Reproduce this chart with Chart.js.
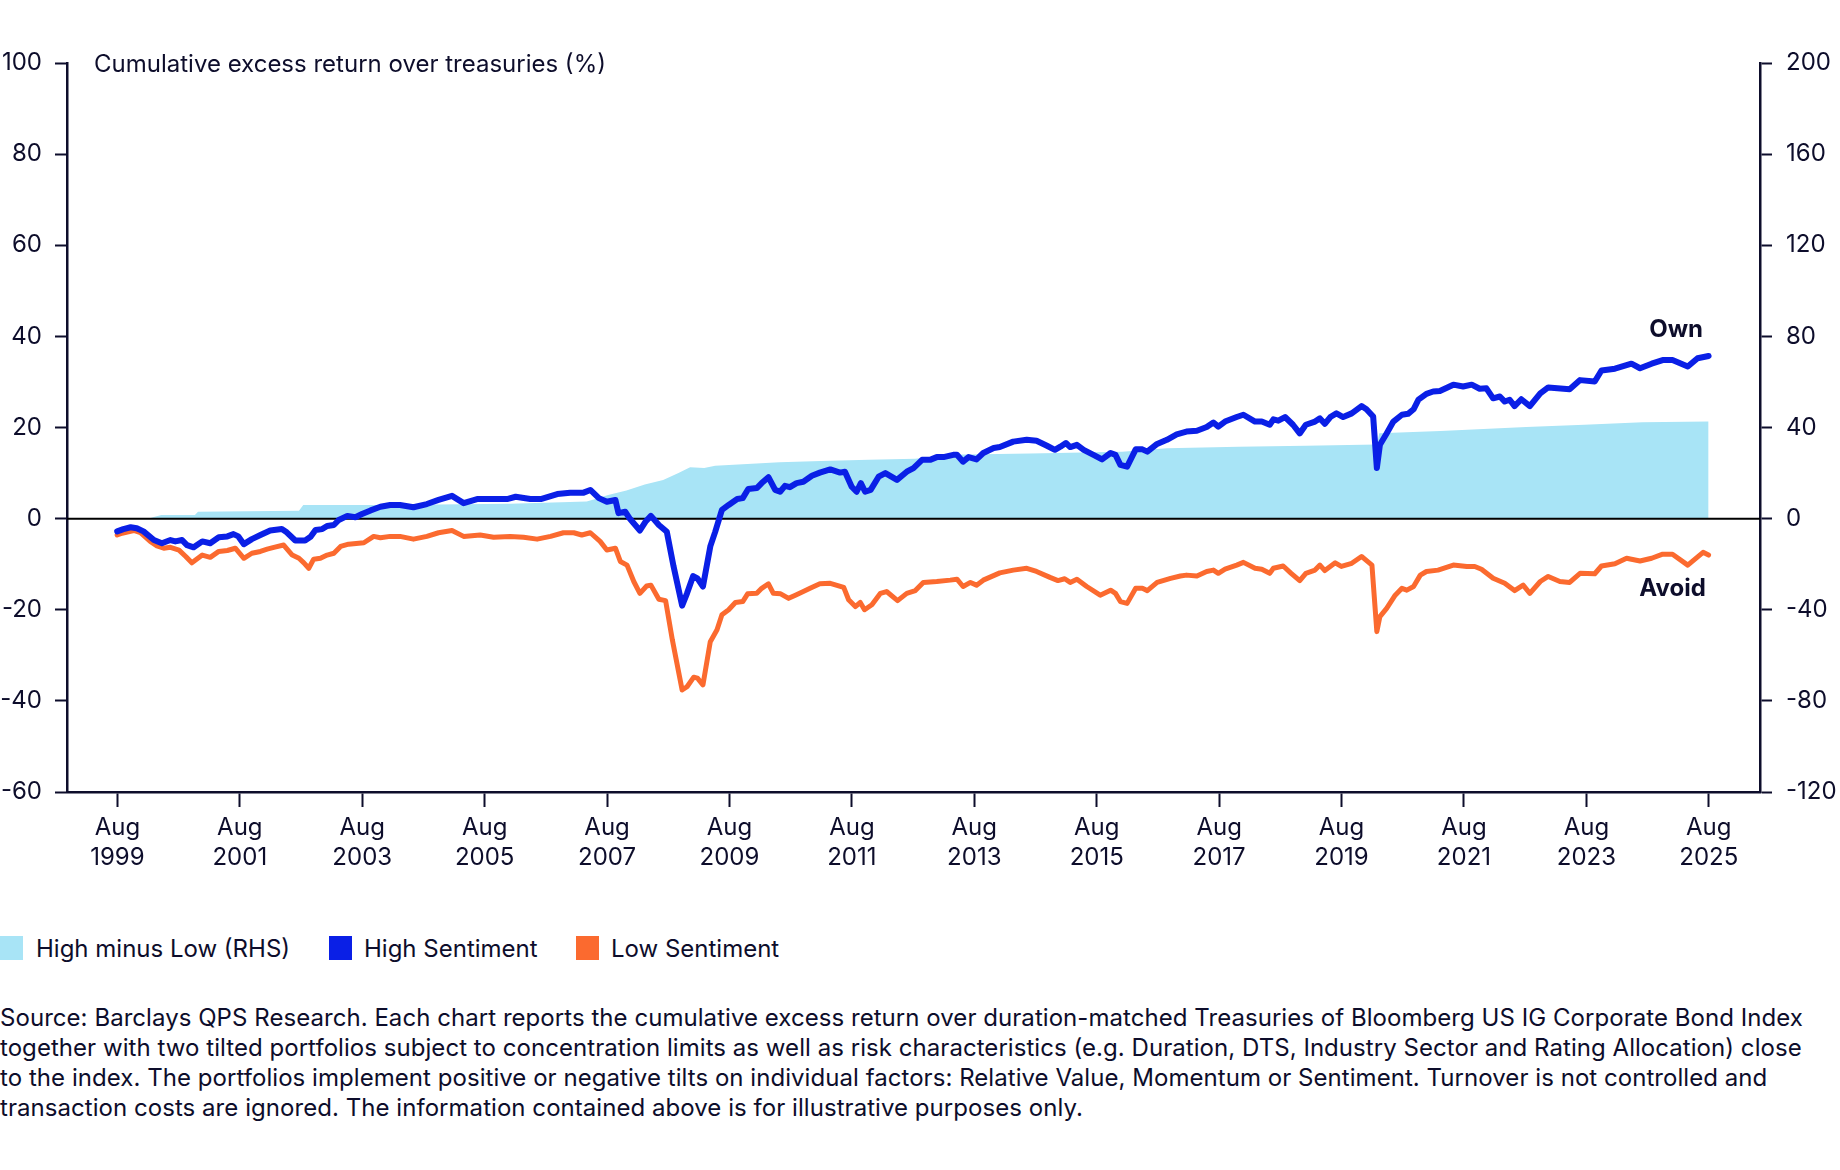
<!DOCTYPE html>
<html>
<head>
<meta charset="utf-8">
<script src="https://cdn.jsdelivr.net/npm/chart.js@4"></script>
<style>
html,body{margin:0;padding:0;background:#fff;}
body{width:1840px;height:1170px;position:relative;overflow:hidden;font-family:Inter,"Noto Sans",sans-serif;color:#0d0d2b;}
#wrap{position:absolute;left:0;top:0;width:1840px;height:900px;}
#legend{position:absolute;left:0;top:936px;height:24px;font-size:24px;line-height:24px;white-space:nowrap;}
.item{position:absolute;top:0;height:24px;}
.sw{position:absolute;top:0;left:0;width:23px;height:24px;}
.lbl{position:absolute;top:1px;}
#note{position:absolute;left:0;top:1003px;font-size:24px;line-height:30px;white-space:nowrap;letter-spacing:0.05px;}
</style>
</head>
<body>
<div id="wrap"><canvas id="c" width="1840" height="900"></canvas></div>
<div id="legend">
  <div class="item" style="left:0"><div class="sw" style="background:#a8e4f6"></div><div class="lbl" style="left:36px">High minus Low (RHS)</div></div>
  <div class="item" style="left:329px"><div class="sw" style="background:#0a1fe6"></div><div class="lbl" style="left:35px">High Sentiment</div></div>
  <div class="item" style="left:576px"><div class="sw" style="background:#fb6a2f"></div><div class="lbl" style="left:35px">Low Sentiment</div></div>
</div>
<div id="note">Source: Barclays QPS Research. Each chart reports the cumulative excess return over duration-matched Treasuries of Bloomberg US IG Corporate Bond Index<br>together with two tilted portfolios subject to concentration limits as well as risk characteristics (e.g. Duration, DTS, Industry Sector and Rating Allocation) close<br>to the index. The portfolios implement positive or negative tilts on individual factors: Relative Value, Momentum or Sentiment. Turnover is not controlled and<br>transaction costs are ignored. The information contained above is for illustrative purposes only.</div>
<script>
// ---- Data (dates as decimal years) ----
const tickYears = [1999,2001,2003,2005,2007,2009,2011,2013,2015,2017,2019,2021,2023,2025];
const tickMonth = 'Aug';

const highDates = [1999.58,1999.68,1999.8,1999.9,2000.01,2000.18,2000.31,2000.45,2000.53,2000.64,2000.72,2000.83,2000.97,2001.1,2001.24,2001.38,2001.48,2001.56,2001.65,2001.78,2001.92,2002.08,2002.27,2002.35,2002.49,2002.65,2002.74,2002.82,2002.93,2003.01,2003.12,2003.2,2003.34,2003.47,2003.58,2003.72,2003.88,2004.04,2004.2,2004.42,2004.64,2004.83,2005.05,2005.24,2005.46,2005.68,2005.95,2006.09,2006.33,2006.5,2006.77,2006.98,2007.2,2007.31,2007.45,2007.58,2007.72,2007.77,2007.88,2007.96,2008.12,2008.21,2008.3,2008.43,2008.56,2008.67,2008.81,2008.89,2008.99,2009.06,2009.15,2009.27,2009.35,2009.46,2009.57,2009.71,2009.8,2009.89,2010.03,2010.11,2010.22,2010.33,2010.41,2010.49,2010.57,2010.68,2010.79,2010.93,2011.06,2011.23,2011.39,2011.47,2011.58,2011.66,2011.73,2011.8,2011.89,2012.02,2012.13,2012.32,2012.48,2012.59,2012.73,2012.86,2012.97,2013.08,2013.24,2013.3,2013.4,2013.49,2013.62,2013.73,2013.9,2014.0,2014.22,2014.44,2014.6,2014.77,2014.9,2014.99,2015.08,2015.15,2015.26,2015.37,2015.53,2015.67,2015.81,2015.89,2015.97,2016.08,2016.22,2016.33,2016.41,2016.57,2016.73,2016.89,2017.05,2017.22,2017.38,2017.49,2017.57,2017.68,2017.87,2017.98,2018.17,2018.28,2018.41,2018.47,2018.55,2018.66,2018.79,2018.9,2019.0,2019.15,2019.23,2019.31,2019.4,2019.5,2019.61,2019.75,2019.91,2019.99,2020.1,2020.16,2020.21,2020.32,2020.43,2020.57,2020.67,2020.76,2020.84,2020.97,2021.08,2021.19,2021.41,2021.57,2021.71,2021.84,2021.95,2022.06,2022.17,2022.25,2022.33,2022.41,2022.52,2022.66,2022.83,2022.96,2023.31,2023.48,2023.72,2023.83,2024.05,2024.32,2024.46,2024.65,2024.83,2024.99,2025.24,2025.4,2025.58];
const highValues = [-2.8,-2.3,-1.9,-2.1,-2.8,-4.7,-5.4,-4.7,-5.0,-4.7,-5.8,-6.3,-5.0,-5.4,-4.1,-3.9,-3.4,-3.9,-5.6,-4.5,-3.6,-2.6,-2.3,-3.0,-4.8,-4.8,-4.0,-2.5,-2.3,-1.6,-1.4,-0.3,0.6,0.3,1.0,1.8,2.6,3.0,3.0,2.5,3.2,4.1,5.0,3.4,4.3,4.3,4.3,4.8,4.3,4.3,5.4,5.7,5.7,6.3,4.5,3.7,4.1,1.2,1.5,-0.1,-2.6,-0.7,0.6,-1.4,-2.9,-10.5,-19.1,-16.4,-12.6,-13.1,-14.9,-6.1,-2.9,1.9,3.0,4.3,4.5,6.5,6.7,7.8,9.1,6.3,5.9,7.2,6.9,7.8,8.1,9.4,10.1,10.8,10.1,10.3,7.0,5.9,7.8,5.9,6.3,9.2,10.0,8.5,10.3,11.1,12.9,12.9,13.5,13.5,14.0,14.0,12.5,13.5,13.0,14.4,15.5,15.7,16.9,17.3,17.1,16.0,15.1,15.8,16.6,15.7,16.2,15.1,14.0,13.0,14.4,14.0,11.8,11.4,15.2,15.2,14.7,16.4,17.3,18.5,19.1,19.3,20.1,21.1,20.2,21.3,22.3,22.8,21.3,21.3,20.6,21.8,21.5,22.3,20.6,18.7,20.6,21.3,22.0,20.8,22.3,23.1,22.3,23.1,24.7,24.0,22.4,11.1,16.2,18.7,21.3,22.8,23.0,24.0,26.1,27.4,27.9,28.0,29.4,29.0,29.4,28.5,28.6,26.4,26.8,25.7,26.1,24.7,26.2,24.7,27.5,28.8,28.4,30.4,30.1,32.5,32.9,34.0,33.0,34.0,34.8,34.8,33.4,35.2,35.7];

const lowDates = [1999.58,1999.66,1999.85,1999.96,2000.12,2000.23,2000.34,2000.45,2000.59,2000.7,2000.8,2000.97,2001.1,2001.24,2001.38,2001.51,2001.65,2001.78,2001.92,2002.03,2002.14,2002.3,2002.44,2002.55,2002.63,2002.71,2002.79,2002.9,2003.01,2003.12,2003.23,2003.36,2003.61,2003.77,2003.88,2004.04,2004.2,2004.42,2004.64,2004.83,2005.05,2005.24,2005.51,2005.73,2006.0,2006.22,2006.44,2006.66,2006.87,2007.04,2007.17,2007.31,2007.47,2007.58,2007.72,2007.8,2007.91,2008.02,2008.12,2008.23,2008.3,2008.43,2008.54,2008.65,2008.81,2008.89,2009.0,2009.06,2009.15,2009.27,2009.38,2009.46,2009.57,2009.68,2009.8,2009.88,2010.03,2010.11,2010.22,2010.3,2010.42,2010.55,2010.66,2010.79,2010.9,2011.06,2011.23,2011.45,2011.53,2011.64,2011.72,2011.79,2011.91,2012.05,2012.15,2012.33,2012.48,2012.62,2012.75,2012.97,2013.19,2013.3,2013.4,2013.52,2013.62,2013.73,2014.0,2014.22,2014.44,2014.6,2014.82,2014.95,2015.06,2015.15,2015.26,2015.42,2015.64,2015.81,2015.89,2015.97,2016.08,2016.22,2016.33,2016.41,2016.57,2016.79,2016.95,2017.05,2017.22,2017.38,2017.49,2017.57,2017.68,2017.87,2017.98,2018.17,2018.28,2018.41,2018.47,2018.63,2018.76,2018.9,2019.0,2019.15,2019.23,2019.31,2019.48,2019.58,2019.75,2019.91,2020.08,2020.16,2020.21,2020.32,2020.46,2020.57,2020.65,2020.76,2020.87,2020.97,2021.16,2021.41,2021.63,2021.76,2021.87,2022.06,2022.25,2022.41,2022.55,2022.66,2022.83,2022.96,2023.15,2023.31,2023.48,2023.72,2023.83,2024.05,2024.24,2024.46,2024.65,2024.83,2024.99,2025.24,2025.49,2025.58];
const lowValues = [-3.6,-3.2,-2.6,-3.1,-5.0,-6.0,-6.5,-6.3,-6.9,-8.3,-9.7,-8.0,-8.5,-7.2,-7.0,-6.5,-8.7,-7.6,-7.2,-6.7,-6.3,-5.8,-8.0,-8.7,-9.7,-10.9,-8.9,-8.7,-8.0,-7.6,-6.1,-5.6,-5.3,-3.9,-4.2,-3.9,-3.9,-4.5,-3.9,-3.1,-2.6,-3.9,-3.6,-4.1,-3.9,-4.1,-4.5,-3.9,-3.1,-3.1,-3.6,-3.1,-5.0,-6.9,-6.5,-9.4,-10.2,-13.8,-16.4,-14.8,-14.6,-17.7,-18.0,-26.6,-37.6,-36.9,-34.8,-35.0,-36.5,-27.0,-24.4,-21.1,-20.0,-18.4,-18.2,-16.5,-16.4,-15.3,-14.3,-16.4,-16.5,-17.5,-16.8,-16.0,-15.3,-14.3,-14.2,-15.1,-17.8,-19.3,-18.4,-20.0,-18.9,-16.4,-16.0,-18.0,-16.4,-15.8,-14.0,-13.8,-13.5,-13.3,-14.9,-14.0,-14.6,-13.5,-11.9,-11.3,-10.9,-11.6,-12.9,-13.6,-13.2,-14.0,-13.3,-14.9,-16.8,-15.7,-16.4,-18.2,-18.6,-15.3,-15.3,-15.8,-14.0,-13.1,-12.6,-12.4,-12.6,-11.6,-11.3,-12.0,-11.1,-10.2,-9.6,-10.9,-11.1,-12.0,-10.9,-10.4,-12.0,-13.6,-12.0,-11.3,-10.2,-11.4,-9.7,-10.5,-9.8,-8.3,-10.2,-24.8,-21.5,-19.7,-16.8,-15.3,-15.7,-14.9,-12.4,-11.6,-11.3,-10.2,-10.5,-10.5,-11.1,-13.1,-14.2,-15.8,-14.6,-16.4,-13.8,-12.7,-13.8,-14.0,-12.0,-12.1,-10.4,-9.9,-8.7,-9.3,-8.7,-7.8,-7.8,-10.2,-7.4,-8.0];

const spreadDates = [2000.1,2000.15,2000.3,2000.85,2000.9,2002.55,2002.62,2004.0,2006.0,2007.25,2007.45,2007.6,2007.9,2008.2,2008.5,2008.75,2008.94,2009.17,2009.35,2009.65,2010.4,2011.08,2011.86,2012.62,2013.19,2014.5,2016.0,2016.73,2017.9,2019.0,2020.16,2020.2,2021.2,2021.9,2022.6,2023.55,2024.5,2025.58];
const spreadValues = [0,0.5,1.6,1.6,3.0,3.5,6.0,6.0,6.5,7.5,9.0,10.4,12.4,15.0,17.0,20.0,22.5,22.2,23.2,23.7,24.7,25.3,25.8,26.3,28.0,28.6,29.4,30.9,31.6,32.0,32.5,37.5,38.5,39.3,40.2,41.2,42.3,42.6];

const seriesNames = ['High Sentiment','Low Sentiment','High minus Low (RHS)'];
const endLabels = [{text:'Own', x:2025.05, y:41.5},{text:'Avoid', x:2024.99, y:-15.5}];
const yTitle = 'Cumulative excess return over treasuries (%)';

// ---- Styles ----
const NAVY = '#0d0d2b';
const BLUE = '#0a1fe6';
const ORANGE = '#fb6a2f';
const FILL = '#a8e4f6';
const FONT = 'Inter, "Noto Sans", sans-serif';

const toXY = (xs, ys) => xs.map((x,i)=>({x:x, y:ys[i]}));
const tickVals = tickYears.map(y => y + 7/12);

const overlay = {
  id:'overlay',
  afterDatasetDraw(chart, args){
    if (args.index !== 2) return;
    const ctx = chart.ctx, a = chart.chartArea, y0 = chart.scales.y.getPixelForValue(0);
    ctx.save();
    ctx.strokeStyle = '#000'; ctx.lineWidth = 2;
    ctx.beginPath(); ctx.moveTo(a.left, y0); ctx.lineTo(a.right, y0); ctx.stroke();
    ctx.restore();
  },
  afterDraw(chart){
    const ctx = chart.ctx, a = chart.chartArea, xs = chart.scales.x, ys = chart.scales.y;
    ctx.save();
    ctx.fillStyle = NAVY;
    ctx.font = '24px ' + FONT;
    ctx.textAlign = 'left'; ctx.textBaseline = 'middle';
    ctx.fillText(yTitle, a.left + 27, ys.getPixelForValue(100) + 2);
    ctx.font = 'bold 24px ' + FONT;
    ctx.textAlign = 'center';
    endLabels.forEach(l => ctx.fillText(l.text, xs.getPixelForValue(l.x), ys.getPixelForValue(l.y)));
    ctx.restore();
  }
};

new Chart(document.getElementById('c'), {
  type:'line',
  data:{
    datasets:[
      {label:seriesNames[0], data:toXY(highDates, highValues), yAxisID:'y', borderColor:BLUE, borderWidth:6, pointRadius:0, tension:0, fill:false, borderJoinStyle:'round', borderCapStyle:'round'},
      {label:seriesNames[1], data:toXY(lowDates, lowValues), yAxisID:'y', borderColor:ORANGE, borderWidth:5, pointRadius:0, tension:0, fill:false, borderJoinStyle:'round', borderCapStyle:'round'},
      {label:seriesNames[2], data:toXY(spreadDates, spreadValues), yAxisID:'y1', borderWidth:0, borderColor:FILL, backgroundColor:FILL, pointRadius:0, tension:0, fill:'origin'}
    ]
  },
  options:{
    responsive:false, animation:false, devicePixelRatio:1,
    layout:{padding:{top:63, left:0, right:0, bottom:0}},
    plugins:{legend:{display:false}, tooltip:{enabled:false}},
    scales:{
      x:{
        type:'linear', min:1998.76, max:2026.42,
        afterBuildTicks(s){ s.ticks = tickVals.map(v=>({value:v})); },
        afterFit(s){ s.height = 108; },
        ticks:{
          autoSkip:false, maxRotation:0, padding:6, color:NAVY,
          font:{family:FONT, size:24, lineHeight:30/24},
          callback(v){ const i = tickVals.findIndex(t=>Math.abs(t-v)<1e-6); return i<0 ? '' : [tickMonth, String(tickYears[i])]; }
        },
        grid:{drawOnChartArea:false, drawTicks:true, tickLength:15, tickColor:NAVY, tickWidth:2},
        border:{display:true, color:NAVY, width:2.5}
      },
      y:{
        position:'left', min:-60, max:100,
        afterFit(s){ s.width = 67; },
        ticks:{stepSize:20, padding:13, color:NAVY, font:{family:FONT, size:24}},
        grid:{drawOnChartArea:false, drawTicks:true, tickLength:12, tickColor:NAVY, tickWidth:2},
        border:{display:true, color:NAVY, width:2.5}
      },
      y1:{
        position:'right', min:-120, max:200,
        afterFit(s){ s.width = 80; },
        ticks:{stepSize:40, padding:14, color:NAVY, font:{family:FONT, size:24}},
        grid:{drawOnChartArea:false, drawTicks:true, tickLength:12, tickColor:NAVY, tickWidth:2},
        border:{display:true, color:NAVY, width:2.5}
      }
    }
  },
  plugins:[overlay]
});
</script>
</body>
</html>
